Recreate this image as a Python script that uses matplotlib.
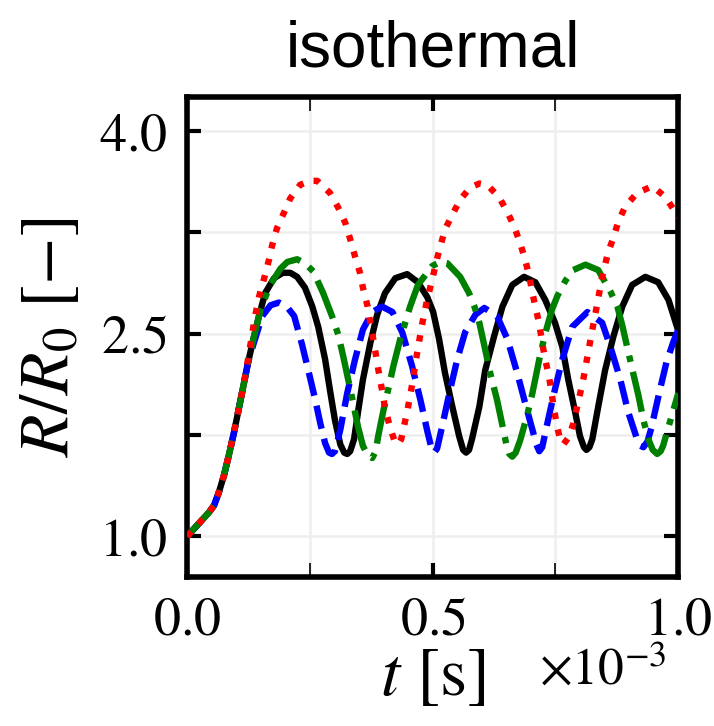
import numpy as np
import matplotlib
matplotlib.use("Agg")
import matplotlib.pyplot as plt
from matplotlib.ticker import MultipleLocator, FuncFormatter

plt.rcParams['mathtext.fontset'] = 'stix'
plt.rcParams['font.family'] = ['Liberation Serif', 'DejaVu Serif']
plt.rcParams['axes.formatter.use_mathtext'] = True

# shared start of all runs (t in ms, R/R0)
rise_t = [0.000, 0.015, 0.030, 0.045, 0.055, 0.065, 0.075, 0.085, 0.095, 0.105, 0.115]
rise_R = [1.00, 1.06, 1.12, 1.18, 1.23, 1.33, 1.45, 1.60, 1.76, 1.94, 2.12]

# black solid
black_t = [0.125, 0.135, 0.147, 0.159, 0.177, 0.195, 0.210, 0.224, 0.240, 0.255, 0.267,
           0.281, 0.291, 0.301, 0.312, 0.320, 0.326, 0.332, 0.340, 0.348, 0.358, 0.373,
           0.387, 0.403, 0.424, 0.448, 0.470, 0.489, 0.501, 0.513, 0.525, 0.540, 0.554,
           0.562, 0.568, 0.574, 0.580, 0.595, 0.607, 0.625, 0.642, 0.662, 0.686, 0.709,
           0.729, 0.749, 0.764, 0.776, 0.790, 0.800, 0.808, 0.813, 0.819, 0.825, 0.837,
           0.851, 0.868, 0.886, 0.906, 0.933, 0.959, 0.980, 1.000]
black_R = [2.30, 2.46, 2.64, 2.80, 2.91, 2.95, 2.95, 2.92, 2.84, 2.70, 2.55,
           2.31, 2.08, 1.86, 1.68, 1.62, 1.61, 1.63, 1.72, 1.92, 2.16, 2.43,
           2.64, 2.80, 2.91, 2.94, 2.88, 2.77, 2.66, 2.46, 2.21, 1.96, 1.74,
           1.64, 1.62, 1.64, 1.72, 1.96, 2.23, 2.48, 2.70, 2.86, 2.92, 2.88,
           2.75, 2.58, 2.40, 2.16, 1.92, 1.74, 1.66, 1.64, 1.66, 1.72, 1.96,
           2.23, 2.48, 2.70, 2.86, 2.92, 2.88, 2.75, 2.52]

# blue dashed
blue_t = [0.125, 0.135, 0.153, 0.170, 0.187, 0.203, 0.218, 0.234, 0.250, 0.261, 0.271,
          0.281, 0.289, 0.295, 0.301, 0.312, 0.326, 0.342, 0.358, 0.377, 0.397, 0.418,
          0.438, 0.458, 0.475, 0.489, 0.497, 0.503, 0.509, 0.519, 0.534, 0.550, 0.566,
          0.587, 0.605, 0.631, 0.652, 0.672, 0.688, 0.703, 0.711, 0.717, 0.723, 0.733,
          0.749, 0.764, 0.784, 0.815, 0.845, 0.862, 0.882, 0.898, 0.916, 0.923, 0.929,
          0.937, 0.945, 0.961, 0.976, 0.990, 1.000]
blue_R = [2.30, 2.42, 2.63, 2.71, 2.73, 2.70, 2.63, 2.42, 2.18, 2.01, 1.84,
          1.69, 1.62, 1.61, 1.63, 1.79, 2.06, 2.31, 2.53, 2.66, 2.70, 2.66,
          2.51, 2.26, 2.01, 1.78, 1.66, 1.62, 1.65, 1.81, 2.06, 2.31, 2.51,
          2.64, 2.69, 2.63, 2.46, 2.21, 1.99, 1.79, 1.68, 1.63, 1.66, 1.83,
          2.09, 2.31, 2.55, 2.66, 2.58, 2.40, 2.16, 1.92, 1.72, 1.67, 1.66,
          1.70, 1.80, 2.06, 2.29, 2.44, 2.53]

# green dash-dot
green_t = [0.125, 0.135, 0.150, 0.169, 0.190, 0.204, 0.224, 0.240, 0.257, 0.277, 0.295,
           0.308, 0.318, 0.328, 0.338, 0.348, 0.358, 0.368, 0.377, 0.384, 0.389, 0.399,
           0.409, 0.420, 0.434, 0.444, 0.454, 0.470, 0.499, 0.515, 0.530, 0.556, 0.574,
           0.585, 0.595, 0.607, 0.617, 0.631, 0.642, 0.650, 0.656, 0.662, 0.669, 0.678,
           0.692, 0.703, 0.717, 0.729, 0.743, 0.754, 0.770, 0.786, 0.811, 0.837, 0.862,
           0.876, 0.886, 0.896, 0.908, 0.919, 0.929, 0.939, 0.948, 0.957, 0.964, 0.969,
           0.984, 1.000]
green_R = [2.30, 2.46, 2.68, 2.86, 2.98, 3.03, 3.05, 3.02, 2.96, 2.80, 2.63,
           2.49, 2.33, 2.16, 1.99, 1.81, 1.67, 1.60, 1.58, 1.63, 1.74, 1.92,
           2.08, 2.26, 2.46, 2.58, 2.70, 2.86, 3.00, 3.03, 3.02, 2.92, 2.80,
           2.70, 2.58, 2.38, 2.21, 2.01, 1.82, 1.68, 1.61, 1.59, 1.62, 1.71,
           1.89, 2.06, 2.31, 2.50, 2.68, 2.78, 2.89, 2.97, 3.01, 2.97, 2.81,
           2.70, 2.56, 2.40, 2.21, 2.04, 1.86, 1.72, 1.64, 1.61, 1.63, 1.67,
           1.86, 2.06]

# red dotted
red_t = [0.125, 0.138, 0.147, 0.157, 0.167, 0.173, 0.183, 0.198, 0.210, 0.230, 0.250,
         0.265, 0.291, 0.308, 0.322, 0.332, 0.342, 0.352, 0.358, 0.367, 0.373, 0.379,
         0.385, 0.389, 0.397, 0.403, 0.413, 0.422, 0.430, 0.436, 0.440, 0.448, 0.458,
         0.468, 0.478, 0.488, 0.499, 0.510, 0.525, 0.540, 0.556, 0.576, 0.595, 0.611,
         0.635, 0.652, 0.666, 0.678, 0.688, 0.697, 0.703, 0.717, 0.723, 0.729, 0.737,
         0.747, 0.753, 0.758, 0.766, 0.776, 0.786, 0.796, 0.806, 0.815, 0.825, 0.835,
         0.845, 0.857, 0.868, 0.878, 0.892, 0.916, 0.947, 0.974, 0.990, 1.000]
red_R = [2.33, 2.62, 2.78, 2.91, 3.05, 3.15, 3.28, 3.40, 3.50, 3.60, 3.63,
         3.63, 3.54, 3.43, 3.32, 3.20, 3.07, 2.95, 2.84, 2.71, 2.58, 2.46,
         2.33, 2.24, 2.08, 1.95, 1.81, 1.71, 1.68, 1.72, 1.79, 1.92, 2.12,
         2.35, 2.56, 2.74, 2.90, 3.07, 3.27, 3.38, 3.49, 3.58, 3.61, 3.60,
         3.51, 3.40, 3.29, 3.17, 3.05, 2.92, 2.80, 2.57, 2.43, 2.31, 2.18,
         1.94, 1.82, 1.74, 1.68, 1.73, 1.83, 1.99, 2.15, 2.33, 2.53, 2.72,
         2.92, 3.10, 3.21, 3.33, 3.44, 3.54, 3.59, 3.51, 3.42, 3.36]

series = [
    (black_t, black_R, 'black', '-'),
    (blue_t, blue_R, 'blue', '--'),
    (green_t, green_R, 'green', '-.'),
    (red_t, red_R, 'red', ':'),
]

fig = plt.figure(figsize=(7.14, 7.26), dpi=100)
ax = fig.add_axes([0.262, 0.2052, 0.688, 0.6612])

for t_ms, R, col, ls in series:
    t = np.array(rise_t + t_ms) * 1e-3
    ax.plot(t, rise_R + R, color=col, linestyle=ls, linewidth=4.6, zorder=3)

ax.set_xlim(0, 1e-3)
ax.set_ylim(0.7, 4.25)
ax.xaxis.set_major_locator(MultipleLocator(0.5e-3))
ax.xaxis.set_minor_locator(MultipleLocator(0.25e-3))
# tick labels in units of 1e-3 s, the factor is written next to the axis
ax.xaxis.set_major_formatter(FuncFormatter(lambda v, p: '$%.1f$' % (v * 1e3)))
ax.set_yticks([1.0, 2.5, 4.0])
ax.set_yticks([1.75, 3.25], minor=True)
ax.set_yticklabels(['$1.0$', '$2.5$', '$4.0$'])
ax.text(0.975, -0.225, r'$\times10^{-3}$', transform=ax.transAxes,
        ha='right', va='baseline', fontsize=37)

ax.grid(True, which='both', color='#eeeeee', linewidth=1.8, zorder=0)
ax.set_axisbelow(True)
ax.tick_params(which='both', direction='in', top=True, right=True, length=10,
               labelsize=39, pad=14)
ax.tick_params(which='major', width=3.0)
ax.tick_params(axis='x', which='minor', width=1.2)
ax.tick_params(axis='y', which='minor', width=3.0)
for sp in ax.spines.values():
    sp.set_linewidth(4.0)

ax.set_xlabel(r'$t\ [\mathrm{s}]$', fontsize=50, labelpad=0)
ax.set_ylabel(r'$R/R_0\ [-]$', fontsize=50, labelpad=12)
ax.set_title('isothermal', fontsize=46, family='Liberation Sans', pad=22)

fig.savefig('out.png', dpi=100)
